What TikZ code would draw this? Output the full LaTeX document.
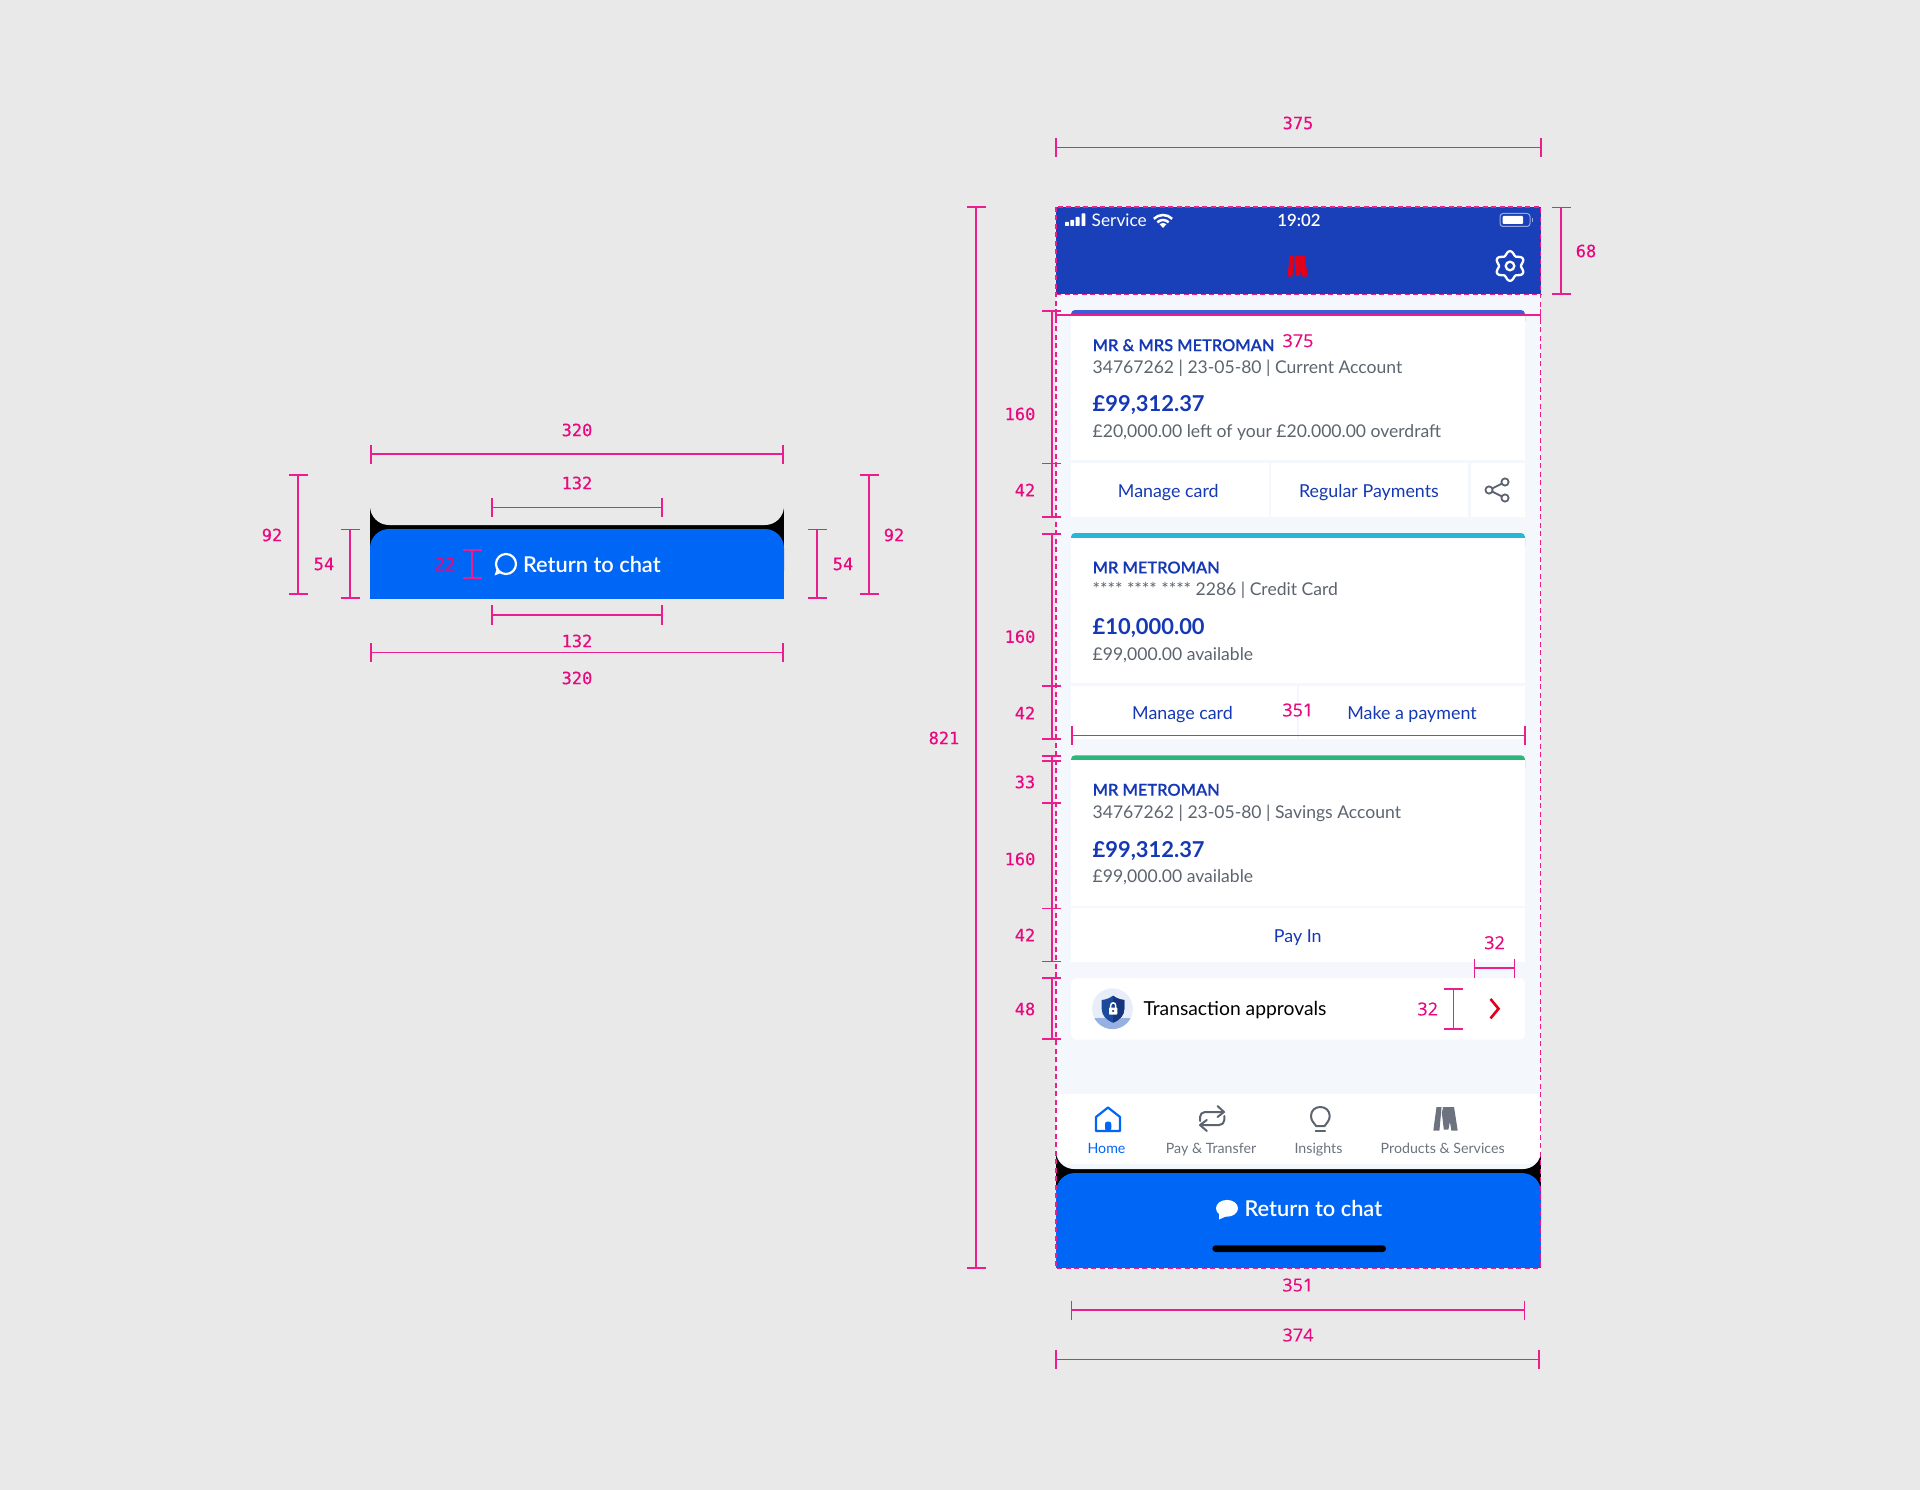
\documentclass[tikz,border=0pt]{standalone}
\usepackage{fontspec}
\setmainfont{Lato}
\newfontfamily\latomed{Lato Semibold}
\newfontfamily\latoname[FakeBold=0.3]{Lato Semibold}
\newfontfamily\dimmono[FakeBold=0.4]{DejaVu Sans Mono}
\newfontfamily\dimsans[FakeBold=0.2]{Open Sans}
\definecolor{bgc}{HTML}{E9E9E9}
\definecolor{pinkc}{HTML}{EA1E8C}
\definecolor{pinktxt}{HTML}{E8087F}
\definecolor{headc}{HTML}{1A40B9}
\definecolor{bodyc}{HTML}{F4F7FB}
\definecolor{navyc}{HTML}{1538B5}
\definecolor{greyc}{HTML}{5C6470}
\definecolor{tabc}{HTML}{6C737E}
\definecolor{bluec}{HTML}{0066F6}
\definecolor{redc}{HTML}{E2001A}
\tikzset{
  dimline/.style={draw=pinkc,line width=1.6pt},
  dashline/.style={draw=pinkc,line width=1.5pt,dash pattern=on 5pt off 3.5pt},
  base/.style={inner sep=0pt,outer sep=0pt},
  dimmo/.style={base,text=pinktxt,font=\dimmono\fontsize{17}{20}\selectfont},
  dimsa/.style={base,text=pinktxt,font=\dimsans\fontsize{18}{20}\selectfont},
  nametxt/.style={base,anchor=west,yshift=-.5pt,text=navyc,font=\latoname\fontsize{16.4}{20}\selectfont},
  subtxt/.style={base,anchor=west,yshift=-1.5pt,text=greyc,font=\fontsize{17.55}{20}\selectfont},
  amttxt/.style={base,anchor=west,yshift=-2pt,text=navyc,font=\bfseries\fontsize{21.9}{26}\selectfont},
  btntxt/.style={base,yshift=-1.5pt,text=navyc,font=\fontsize{17.85}{20}\selectfont},
  tabtxt/.style={base,anchor=base,text=tabc,font=\fontsize{14.2}{16}\selectfont},
  chattxt/.style={base,text=white,font=\latomed\fontsize{21.8}{24}\selectfont},
  iconline/.style={draw=greyc,line width=2pt,line cap=round,line join=round},
}
\newcommand{\hdim}[5]{\draw[dimline] (#1,#3) -- (#2,#3) (#1,#4) -- (#1,#5) (#2,#4) -- (#2,#5);}
\newcommand{\vdim}[3]{\draw[dimline] (#1,#2) -- (#1,#3) (#1-9.5,#2) -- (#1+9.5,#2) (#1-9.5,#3) -- (#1+9.5,#3);}
\newcommand{\mlogo}[5]{\begin{scope}[shift={(#2,#3)},x=#4pt,y=-#5pt]
  \fill[#1] (0,1) -- (.13,0) -- (.34,0) -- (.25,1) -- cycle;
  \fill[#1] (.40,0) -- (.85,0) -- (1,1) -- (.74,1) -- (.68,.62) -- (.62,.95) -- (.43,.95) -- (.35,.25) -- cycle;
\end{scope}}
\newcommand{\wifiarc}[1]{\draw[white,line width=2.5pt] (1163-.707*#1,228-.707*#1) .. controls (1163-.317*#1,228-1.098*#1) and (1163+.317*#1,228-1.098*#1) .. (1163+.707*#1,228-.707*#1);}
\begin{document}
\begin{tikzpicture}[x=1pt,y=-1pt]
\useasboundingbox (0,0) rectangle (1920,1490);
\fill[bgc] (0,0) rectangle (1920,1490);

%% ---- left widget ----
\fill[black] (370,506) rectangle (784,546);
\fill[bgc,rounded corners=19pt] (370,470) rectangle (784,525);
\fill[bluec,rounded corners=19pt] (370,529) rectangle (784,590);
\fill[bluec] (370,560) rectangle (784,599);
\draw[white,line width=2.2pt] (506,564) circle[radius=10pt];
\fill[white] (497,568) -- (501,573) -- (494.5,575.5) -- cycle;
\node[chattxt,anchor=west] (lchat) at (523,565) {Return to chat};
\hdim{371}{783}{454}{445}{464}
\node[dimmo] (l320a) at (577,430) {320};
\hdim{492}{662}{507.5}{498}{517}
\node[dimmo] (l132a) at (577,483) {132};
\vdim{298}{475}{594}
\node[dimmo] (l92a) at (272,535) {92};
\vdim{350}{529.5}{598}
\node[dimmo] (l54a) at (324,564) {54};
\vdim{472}{550}{578}
\node[dimsa] (l22) at (445,564) {22};
\vdim{817}{529.5}{598}
\node[dimmo] (l54b) at (843,564) {54};
\vdim{869}{475}{594}
\node[dimmo] (l92b) at (894,535) {92};
\hdim{492}{662}{615}{605}{625}
\node[dimmo] (l132b) at (577,641) {132};
\hdim{371}{783}{652.5}{643}{662}
\node[dimmo] (l320b) at (577,678) {320};

%% ---- phone body ----
\fill[bodyc] (1056,207) rectangle (1541,1160);
\fill[headc] (1056,207) rectangle (1541,294);

% status bar
\foreach \xx/\hh in {1065/4,1070.3/6,1075.6/9,1081.5/12.5}
  \fill[white,rounded corners=.6pt] (\xx,226) rectangle (\xx+3.9,226-\hh);
\node[base,anchor=west,text=white,font=\fontsize{17.3}{20}\selectfont] (svc) at (1091.7,220) {Service};
\wifiarc{13}
\wifiarc{8}
\fill[white] (1163,228) -- (1159.5,224) .. controls (1161.5,222.6) and (1164.5,222.6) .. (1166.5,224) -- cycle;
\node[base,text=white,font=\latomed\fontsize{16.8}{20}\selectfont] (clock) at (1299,220) {19:02};
\draw[white,opacity=.55,line width=1pt,rounded corners=3pt] (1500,213.5) rectangle (1530,226.5);
\fill[white,rounded corners=1pt] (1502.5,216) rectangle (1523,224);
\fill[white,opacity=.55] (1531.5,218) rectangle (1533,222);
\mlogo{redc}{1287.3}{255.7}{20.4}{21}
\begin{scope}[shift={(1510,266)}]
  \draw[white,line width=2.3pt,line join=round] plot[domain=0:360,samples=97,smooth cycle] (\x:{12.9+1.9*cos(6*\x-540)});
  \draw[white,line width=2.3pt] (0,0) circle[radius=4.3pt];
\end{scope}

% card 1
\fill[fill={rgb,255:red,63;green,91;blue,214},rounded corners=4pt] (1071,310) rectangle (1525,325);
\fill[white] (1071,315) rectangle (1525,460);
\fill[white] (1071,463) rectangle (1268.6,517);
\fill[white] (1271.4,463) rectangle (1468.4,517);
\fill[white] (1470.8,463) rectangle (1525,517);
\node[nametxt] (c1n) at (1092.7,344.7) {MR \& MRS METROMAN};
\node[subtxt] (c1s) at (1092.7,366.7) {34767262 | 23-05-80 | Current Account};
\node[amttxt] (c1a) at (1092.7,403) {£99,312.37};
\node[subtxt] (c1o) at (1092.7,431) {£20,000.00 left of your £20.000.00 overdraft};
\node[btntxt] (c1b1) at (1168.3,491) {Manage card};
\node[btntxt] (c1b2) at (1369,491) {Regular Payments};
\draw[greyc,line width=1.8pt] (1492,488.5) -- (1502,483.5) (1492,491.5) -- (1502,496.5);
\draw[greyc,line width=1.8pt,fill=white] (1489,490) circle[radius=3.6pt] (1505,482) circle[radius=3.6pt] (1505,498) circle[radius=3.6pt];

% card 2
\fill[fill={rgb,255:red,38;green,183;blue,214},rounded corners=4pt] (1071,533) rectangle (1525,550);
\fill[white] (1071,537.7) rectangle (1525,683);
\fill[white] (1071,685.7) rectangle (1297,739.3);
\fill[white] (1299,685.7) rectangle (1525,739.3);
\node[nametxt] (c2n) at (1092.7,567) {MR METROMAN};
\node[subtxt] (c2s) at (1092.7,589) {**** **** **** 2286 | Credit Card};
\node[amttxt] (c2a) at (1092.7,626) {£10,000.00};
\node[subtxt] (c2o) at (1092.7,654) {£99,000.00 available};
\node[btntxt] (c2b1) at (1182.5,713) {Manage card};
\node[btntxt] (c2b2) at (1412,713) {Make a payment};

% card 3
\fill[fill={rgb,255:red,44;green,182;blue,125},rounded corners=4pt] (1071,755.3) rectangle (1525,772);
\fill[white] (1071,760.3) rectangle (1525,905.7);
\fill[white] (1071,908) rectangle (1525,962);
\node[nametxt] (c3n) at (1092.7,789.3) {MR METROMAN};
\node[subtxt] (c3s) at (1092.7,811.7) {34767262 | 23-05-80 | Savings Account};
\node[amttxt] (c3a) at (1092.7,848.7) {£99,312.37};
\node[subtxt] (c3o) at (1092.7,876) {£99,000.00 available};
\node[btntxt] (c3b) at (1297.8,936) {Pay In};

% transaction approvals
\fill[white,rounded corners=6pt] (1071,978) rectangle (1525,1039.7);
\begin{scope}
  \clip (1112.5,1008.7) circle[radius=20.4pt];
  \fill[fill={rgb,255:red,231;green,238;blue,249}] (1090,985) rectangle (1135,1032);
  \fill[fill={rgb,255:red,150;green,176;blue,226}] (1090,1017.5) rectangle (1135,1032);
\end{scope}
\fill[fill={rgb,255:red,27;green,74;blue,156}] (1113,995.7) .. controls (1109,998.5) and (1106,999.5) .. (1101.7,1000) -- (1101.7,1009) .. controls (1101.7,1015) and (1106,1020) .. (1113,1022.7) .. controls (1120,1020) and (1124.3,1015) .. (1124.3,1009) -- (1124.3,1000) .. controls (1120,999.5) and (1117,998.5) .. (1113,995.7) -- cycle;
\fill[fill={rgb,255:red,23;green,53;blue,125}] (1113,995.7) .. controls (1117,998.5) and (1120,999.5) .. (1124.3,1000) -- (1124.3,1009) .. controls (1124.3,1015) and (1120,1020) .. (1113,1022.7) -- cycle;
\draw[white,line width=1.5pt] (1110.7,1008) -- (1110.7,1005.5) .. controls (1110.7,1002) and (1115.7,1002) .. (1115.7,1005.5) -- (1115.7,1008);
\fill[white,rounded corners=.7pt] (1109,1007.5) rectangle (1117.3,1014.5);
\fill[fill={rgb,255:red,27;green,74;blue,156}] (1113.1,1011) circle[radius=1.2pt];
\node[base,anchor=west,yshift=-1.5pt,text=black,font=\fontsize{19.3}{20}\selectfont] (txa) at (1143.5,1009) {Transaction approvals};
\draw[redc,line width=2.6pt,line join=miter] (1490.5,999) -- (1498.5,1008.7) -- (1490.5,1018.4);

%% ---- bottom ----
\fill[black] (1056,1150) rectangle (1541,1190);
\fill[bodyc,rounded corners=18pt] (1056,1094) rectangle (1541,1169);
\fill[white,rounded corners=14pt] (1056,1094) rectangle (1541,1164);
\fill[white] (1056,1094) rectangle (1541,1140);
\fill[bluec,rounded corners=19pt] (1056,1173) rectangle (1541,1240);
\fill[bluec] (1056,1200) rectangle (1541,1268.3);
\fill[black,rounded corners=3.3pt] (1212.4,1245.3) rectangle (1386,1252);
\fill[white] (1227,1208.3) ellipse[x radius=11pt,y radius=8.4pt];
\fill[white] (1219,1212) -- (1219,1219.5) -- (1228,1215.5) -- cycle;
\node[chattxt,anchor=west] (bchat) at (1244.5,1208.7) {Return to chat};

% tabs
\draw[bluec,line width=2.2pt,line join=round] (1096,1131) -- (1096,1117) -- (1108,1107.5) -- (1120,1117) -- (1120,1131) -- cycle;
\fill[bluec,rounded corners=2.5pt] (1105,1131) -- (1105,1121.5) -- (1111.3,1121.5) -- (1111.3,1131) -- cycle;
\node[tabtxt,text=bluec] (t1) at (1106.5,1153) {Home};
\draw[iconline,rounded corners=5pt] (1200,1121) -- (1200,1112) -- (1223,1112);
\draw[iconline] (1217.5,1106) -- (1224,1112) -- (1217.5,1117);
\draw[iconline,rounded corners=5pt] (1224.3,1116) -- (1224.3,1125) -- (1201,1125);
\draw[iconline] (1206.8,1120) -- (1200,1125) -- (1206.8,1131);
\node[tabtxt] (t2) at (1211,1153) {Pay \& Transfer};
\draw[iconline] (1316,1126) .. controls (1314,1122.5) and (1311,1121) .. (1311,1116) .. controls (1311,1110.5) and (1315,1107) .. (1320.3,1107) .. controls (1325.5,1107) and (1329.7,1110.5) .. (1329.7,1116) .. controls (1329.7,1121) and (1326.5,1122.5) .. (1324.7,1126) -- cycle;
\draw[iconline] (1315.5,1130.5) -- (1325,1130.5);
\node[tabtxt] (t3) at (1318.5,1153) {Insights};
\mlogo{tabc}{1433.3}{1107}{24.4}{23.7}
\node[tabtxt] (t4) at (1442.7,1153) {Products \& Services};

%% ---- phone dashes and dims ----
\draw[dashline] (1056,207) rectangle (1540.7,1268.3);
\draw[dashline] (1056,294.3) -- (1540.7,294.3);
\hdim{1056}{1541}{147.5}{138}{157}
\node[dimmo] (p375a) at (1298,123) {375};
\vdim{976}{207}{1268}
\node[dimmo] (p821) at (944,738) {821};
\vdim{1561}{207.5}{294}
\node[dimmo] (p68) at (1586,251) {68};
\hdim{1056}{1540.5}{315}{309}{321}
\node[dimsa] (p375b) at (1298,340.7) {375};
\hdim{1071.8}{1525}{735.3}{726}{745}
\node[dimsa] (p351a) at (1297.8,710) {351};
\vdim{1051.8}{311}{463.3}
\vdim{1051.8}{463.3}{517}
\vdim{1051.8}{533.7}{685.7}
\vdim{1051.8}{685.7}{739}
\vdim{1051.8}{755.7}{961.3}
\draw[dimline] (1042.3,760.7) -- (1061.3,760.7) (1042.3,802.7) -- (1061.3,802.7) (1042.3,908.3) -- (1061.3,908.3);
\vdim{1051.8}{978}{1039}
\node[dimmo] (d160a) at (1020,414) {160};
\node[dimmo] (d42a) at (1025,490) {42};
\node[dimmo] (d160b) at (1020,636.7) {160};
\node[dimmo] (d42b) at (1025,713) {42};
\node[dimmo] (d33) at (1025,782) {33};
\node[dimmo] (d160c) at (1020,859) {160};
\node[dimmo] (d42c) at (1025,935) {42};
\node[dimmo] (d48) at (1025,1009) {48};
\hdim{1474.3}{1514.6}{968}{958.7}{977.7}
\node[dimsa] (p32a) at (1494.6,942.7) {32};
\vdim{1453.6}{988.7}{1028.7}
\node[dimsa] (p32b) at (1427.7,1009) {32};
\node[dimsa] (p351b) at (1297.8,1285) {351};
\hdim{1071.5}{1524.5}{1310}{1300.5}{1319.5}
\node[dimsa] (p374) at (1298,1335) {374};
\hdim{1056}{1539}{1359.5}{1350}{1369}
\end{tikzpicture}
\end{document}
